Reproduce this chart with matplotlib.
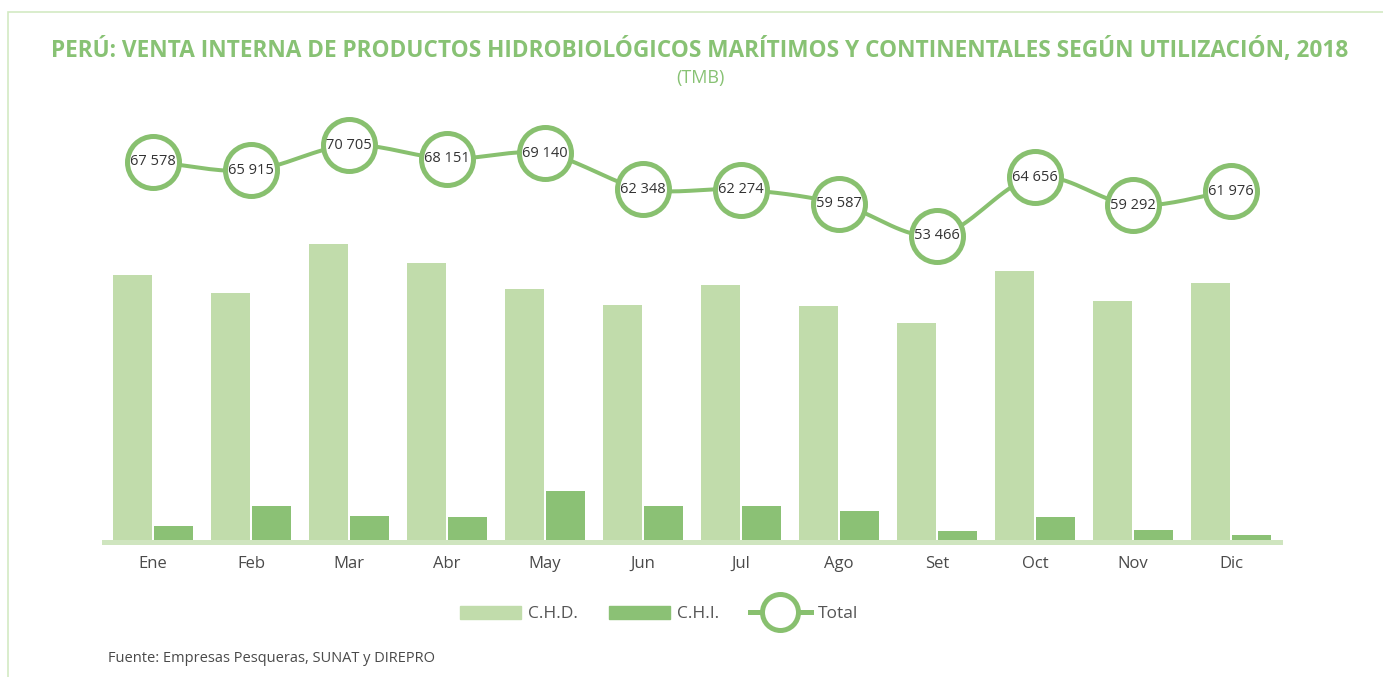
"""Venta interna de productos hidrobiologicos segun utilizacion, 2018."""
import matplotlib

matplotlib.use("Agg")
import matplotlib.pyplot as plt
import matplotlib.patches as mpatches
from matplotlib.lines import Line2D
import numpy as np

plt.rcParams["font.family"] = ["Open Sans", "DejaVu Sans"]

meses = ["Ene", "Feb", "Mar", "Abr", "May", "Jun",
         "Jul", "Ago", "Set", "Oct", "Nov", "Dic"]
# valores estimados desde la altura de las barras (TMB)
chd = [60100, 56000, 67000, 62800, 56900, 53300,
       57800, 53100, 49300, 61000, 54200, 58300]
chi = [3600, 8100, 5900, 5600, 11500, 8100,
       8100, 7000, 2500, 5600, 2700, 1600]
total = [67578, 65915, 70705, 68151, 69140, 62348,
         62274, 59587, 53466, 64656, 59292, 61976]
etiquetas_total = ["67 578", "65 915", "70 705", "68 151", "69 140", "62 348",
                   "62 274", "59 587", "53 466", "64 656", "59 292", "61 976"]

VERDE_CLARO = "#c1dcab"
VERDE = "#8bc175"
VERDE_LINEA = "#88c06f"
VERDE_TITULO = "#88c274"
GRIS = "#4a4a4a"

PX = 0.72  # puntos por pixel a dpi 100


def _suavizar(x, y, n=20):
    """Curva Catmull-Rom que pasa por los puntos (solo para el trazo)."""
    x = np.asarray(x, float)
    y = np.asarray(y, float)
    px = np.concatenate([[2 * x[0] - x[1]], x, [2 * x[-1] - x[-2]]])
    py = np.concatenate([[2 * y[0] - y[1]], y, [2 * y[-1] - y[-2]]])
    xs, ys = [], []
    t = np.linspace(0, 1, n)
    for i in range(1, len(px) - 2):
        for p, out in ((px, xs), (py, ys)):
            p0, p1, p2, p3 = p[i - 1], p[i], p[i + 1], p[i + 2]
            out.extend(0.5 * (2 * p1 + (-p0 + p2) * t
                              + (2 * p0 - 5 * p1 + 4 * p2 - p3) * t ** 2
                              + (-p0 + 3 * p1 - 3 * p2 + p3) * t ** 3))
    return np.array(xs), np.array(ys)


fig = plt.figure(figsize=(13.83, 6.77), dpi=100)
ax = fig.add_axes([104 / 1383, 135 / 677, 1176 / 1383, 442 / 677])
ax2 = ax.twinx()

x = np.arange(len(meses))
ax.bar(x - 0.21, chd, width=0.39, color=VERDE_CLARO, zorder=1)
ax.bar(x + 0.21, chi, width=0.39, color=VERDE, zorder=1)
ax.set_xlim(-0.5, len(meses) - 0.5)
ax.set_ylim(0, 99450)

xs, ys = _suavizar(x, total)
ax2.plot(xs, ys, color=VERDE_LINEA, lw=4 * PX, solid_capstyle="round", zorder=2)
ax2.plot(x, total, ls="none", marker="o", ms=52 * PX, mfc="white",
         mec=VERDE_LINEA, mew=5 * PX, zorder=3)
for xi, v, lab in zip(x, total, etiquetas_total):
    ax2.text(xi, v, lab, ha="center", va="center", fontsize=10.5,
             color="#333333", zorder=4)
ax2.set_ylim(-4930, 79340)

for a in (ax, ax2):
    for s in ("top", "right", "left"):
        a.spines[s].set_visible(False)
    a.set_yticks([])
ax2.spines["bottom"].set_visible(False)
ax.spines["bottom"].set_color("#cfe5bf")
ax.spines["bottom"].set_linewidth(5 * PX)
ax.spines["bottom"].set_zorder(2.5)

ax.set_xticks(x)
ax.set_xticklabels(meses, fontsize=12, color=GRIS)
ax.tick_params(axis="x", length=0, pad=10)

fig.text(700 / 1383, 1 - 50 / 677,
         "PERÚ: VENTA INTERNA DE PRODUCTOS HIDROBIOLÓGICOS MARÍTIMOS Y "
         "CONTINENTALES SEGÚN UTILIZACIÓN, 2018",
         ha="center", va="center", fontsize=16.3, fontweight="bold",
         color=VERDE_TITULO)
fig.text(700 / 1383, 1 - 78 / 677, "(TMB)", ha="center", va="center",
         fontsize=13, color=VERDE_TITULO)

handles = [
    mpatches.Patch(color=VERDE_CLARO, label="C.H.D."),
    mpatches.Patch(color=VERDE, label="C.H.I."),
    Line2D([], [], color=VERDE_LINEA, lw=5 * PX, marker="o", ms=36 * PX,
           mfc="white", mec=VERDE_LINEA, mew=5 * PX, label="Total"),
]
fig.legend(handles=handles, loc="center", ncol=3, frameon=False,
           bbox_to_anchor=(659 / 1383, 1 - 614 / 677), fontsize=12.5,
           labelcolor="#555555", handlelength=3.5, handleheight=0.75,
           handletextpad=0.4, columnspacing=1.8)

fig.text(108 / 1383, 1 - 658 / 677,
         "Fuente: Empresas Pesqueras, SUNAT y DIREPRO",
         ha="left", va="center", fontsize=10.5, color=GRIS)

fig.add_artist(mpatches.Rectangle((8 / 1383, -0.1), 1.2, 1.1 - 12 / 677,
                                  transform=fig.transFigure, fill=False,
                                  ec="#d3eac4", lw=1.2))

fig.savefig("out.png", dpi=100)
